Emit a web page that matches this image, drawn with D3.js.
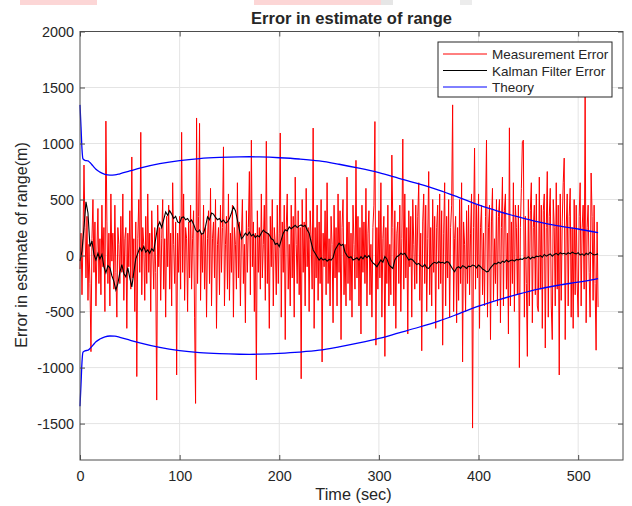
<!DOCTYPE html>
<html>
<head>
<meta charset="utf-8">
<script src="https://cdn.jsdelivr.net/npm/d3@7"></script>
<style>
  body { margin: 0; background: #fff; }
  text { font-family: "Liberation Sans", Arial, sans-serif; fill: #262626; }
</style>
</head>
<body>
<svg id="chart" width="632" height="506"></svg>
<script>
// sample step of the measurement error and kalman series (sec)
const measStep = 1;
const kalmanStep = 2;

const xTicks = [0, 100, 200, 300, 400, 500];
const yTicks = [-1500, -1000, -500, 0, 500, 1000, 1500, 2000];

// measurement error, one value per second from t=0
const measError = [
  -120, 200, -350, 150, 808, 250, -200, 350, -400, 100, -250, -858, 150, 500, -150, 300, -450, 50, 420, -250,
  150, -350, 450, -100, 250, -500, 1200, 300, -250, 200, -450, 550, -50, 200, -300, 450, -150, -550, 250, 100,
  -250, 350, -150, 550, -400, 150, 250, -650, 200, -100, 400, -300, 880, -200, 150, -500, 300, -1080, 150, 500,
  -150, 1100, -350, 250, 100, -400, 350, -250, 550, -150, 200, -500, 400, 50, -300, 250, -150, -1290, 450, -100,
  250, -400, 150, 500, -300, 150, -550, 350, -100, 450, -300, 200, -450, 650, 100, -250, 300, -1066, 200, -150,
  350, -300, 1100, -150, 550, -400, 250, 150, -500, 300, -200, 450, -300, 150, 400, -550, -1320, 1228, -250, 350,
  1180, -400, 200, -150, 450, -300, 250, -550, 150, 400, -250, 600, -450, 150, 300, -200, 500, -650, 100, 250,
  -350, 450, -150, 250, 970, -450, 100, 350, -300, 550, -400, 200, -150, 450, -550, 250, 100, -300, 650, -200,
  300, -450, 150, 500, -250, 100, -600, 400, -150, 250, 750, -350, 1030, -100, 300, -500, 200, -1110, 400, -150,
  250, -300, 550, -200, 100, 450, -400, 1020, -250, 200, -650, 350, -100, 500, -450, 250, 100, -350, 450, -250,
  200, 1094, -550, 300, -150, 450, -750, 250, 550, -300, 100, -450, 450, -200, 350, -550, 700, 100, -250, 400,
  -350, 250, -1100, 500, -150, 300, -450, 600, -100, 250, -500, 400, 150, -300, 1138, -650, 250, -200, 450, -400,
  300, -250, 500, -950, 200, -100, 400, -350, 650, -250, 150, -450, 350, 100, -600, 450, -200, 250, -450, 550,
  -150, 400, -750, 250, 500, -350, 100, -450, 700, -250, 300, -400, 200, -550, 450, 100, -300, 850, -200, 350,
  -450, 250, -700, 450, -150, 300, -250, 600, -450, 200, 400, -350, 100, -550, 250, 450, 1196, -800, 250, -300,
  400, -200, 650, -550, 150, 350, -900, 250, -250, 450, -450, 100, -350, 897, 250, -450, 400, -650, 200, 300,
  -250, 450, -500, 150, 1040, -300, 550, -200, 250, -700, 400, -100, 350, -550, 500, 100, -300, 450, -250, 350,
  650, -400, 200, -850, 300, 550, -250, 450, -500, 150, 750, -350, 250, -450, 500, -150, 350, -650, 250, 450,
  -300, 550, -250, 400, -800, 200, 650, -450, 350, -200, 500, -550, 250, 450, 1345, -500, 150, 350, -600, 250,
  -400, 500, -250, 650, -950, 300, 100, -500, 400, -250, 450, -350, 200, 550, -1540, 250, 960, -300, 450, -200,
  550, -650, 250, 450, -350, 200, -450, 350, 1030, -550, 250, 450, -750, 300, 600, -400, 150, -250, 500, -450,
  350, 500, -600, 250, 700, -450, 400, 550, -300, 200, -700, 1140, -450, 300, -250, 650, -500, 450, 250, -350,
  450, -1000, 250, 600, 1017, 1030, -550, 350, -250, -900, 500, -450, 400, 650, -600, 250, 450, -350, 550, -450,
  -500, 700, -300, 450, -650, 400, 550, -825, 250, 750, -550, 350, 600, -450, -750, 500, 250, -450, 650, -300,
  450, -1066, 550, -400, 300, 650, 870, -750, 250, 550, -450, 350, 600, -550, 250, -650, 500, -350, 450, -250,
  -550, 350, 650, -450, 250, 450, -300, 1420, -600, 250, 450, -150, -550, 737, 350, -400, 450, -250, -845, 300,
  -460
];

// kalman filter error, one value every 2 sec from t=0
const kalmanError = [
  -50, 40, 250, 480, 380, 80, 130, 10, -40, 20,
  -30, 10, -100, -155, -90, -110, -180, -230, -307, -250,
  -150, -80, -160, -190, -110, -200, -280, -150, -30, 20,
  70, 40, 80, 30, 50, 20, 60, 40, 150, 260,
  300, 250, 320, 390, 360, 400, 370, 330, 350, 300,
  290, 340, 345, 320, 330, 300, 317, 280, 230, 210,
  228, 190, 200, 260, 345, 320, 380, 370, 340, 320,
  330, 300, 317, 290, 300, 330, 380, 435, 400, 317,
  230, 150, 170, 200, 180, 210, 175, 190, 160, 180,
  166, 200, 228, 210, 200, 185, 150, 140, 100, 110,
  80, 140, 200, 230, 220, 255, 240, 255, 270, 250,
  265, 273, 260, 270, 230, 200, 120, 50, 20, -10,
  -40, -20, -40, -30, -50, -35, -40, -20, 50, 80,
  110, 90, 100, 30, 0, -20, -10, -40, -30, -20,
  -40, -10, -30, 0, -20, 0, -40, -66, -80, -100,
  -70, -40, -60, -10, -30, -80, -100, -115, -40, -10,
  0, 20, 10, 20, -10, -40, -30, -40, -60, -80,
  -70, -90, -100, -80, -110, -115, -90, -70, -60, -70,
  -55, -65, -60, -70, -55, -60, -90, -120, -145, -110,
  -100, -115, -90, -100, -115, -95, -100, -85, -90, -110,
  -85, -100, -120, -130, -145, -140, -110, -90, -70, -75,
  -60, -70, -50, -60, -40, -55, -45, -40, -50, -35,
  -40, -30, -35, -20, -25, -10, -30, -15, -20, -5,
  -10, 0, -15, 10, -5, 5, 15, -5, 10, 20,
  5, 25, 15, 20, 10, 25, 15, 30, 20, 15,
  25, 5, 15, 0, 20, 10, 30, 15, 5, 10,
  15
];

// theory bound (upper), lower bound is its negative
const theoryTime = [0, 1, 2, 3, 5, 8, 10, 13, 16, 20, 25, 30, 35, 40, 50, 60, 80, 100, 120, 140, 160, 170, 180, 200, 220, 240, 260, 280, 300, 320, 340, 360, 380, 400, 420, 440, 460, 480, 500, 520];
const theoryBound = [1345, 1150, 950, 862, 850, 845, 830, 800, 770, 745, 725, 718, 720, 730, 755, 780, 820, 848, 866, 876, 881, 882, 880, 873, 862, 845, 815, 780, 740, 690, 640, 585, 520, 452, 395, 345, 300, 265, 237, 205];

const legendItems = [
  { label: "Measurement Error", color: "#ff0000" },
  { label: "Kalman Filter Error", color: "#000000" },
  { label: "Theory", color: "#0000ff" }
];

const svg = d3.select('#chart');

// faint bands along the top edge of the screenshot
svg.append('rect').attr('x', 20).attr('y', 0).attr('width', 77).attr('height', 5).attr('fill', '#fcd6d6');
svg.append('rect').attr('x', 254).attr('y', 0).attr('width', 127).attr('height', 5).attr('fill', '#fcd6d6');
svg.append('rect').attr('x', 381).attr('y', 0).attr('width', 12).attr('height', 5).attr('fill', '#e6e6e6');
svg.append('rect').attr('x', 460).attr('y', 0).attr('width', 12).attr('height', 5).attr('fill', '#ececec');

const plotLeft = 80, plotRight = 623, plotTop = 31.5, plotBottom = 460;

const x = d3.scaleLinear().domain([0, 545]).range([plotLeft, plotRight]);
const y = d3.scaleLinear().domain([-1825, 2000]).range([plotBottom, plotTop]);

// grid
svg.append('g')
    .selectAll('line')
    .data(xTicks.slice(1))
    .join('line')
    .attr('x1', d => x(d)).attr('x2', d => x(d))
    .attr('y1', plotTop).attr('y2', plotBottom)
    .attr('stroke', '#e4e4e4');

svg.append('g')
    .selectAll('line')
    .data(yTicks.slice(0, -1))
    .join('line')
    .attr('x1', plotLeft).attr('x2', plotRight)
    .attr('y1', d => y(d)).attr('y2', d => y(d))
    .attr('stroke', '#e4e4e4');

const plot = svg.append('g');

const line = d3.line()
    .x(d => x(d[0]))
    .y(d => y(d[1]));

plot.append('path')
    .datum(measError.map((v, i) => [i * measStep, v]))
    .attr('d', line)
    .attr('fill', 'none')
    .attr('stroke', '#ff0000')
    .attr('stroke-width', 1);

plot.append('path')
    .datum(kalmanError.map((v, i) => [i * kalmanStep, v]))
    .attr('d', line)
    .attr('fill', 'none')
    .attr('stroke', '#000000')
    .attr('stroke-width', 1.1);

const smooth = d3.line()
    .x(d => x(d[0]))
    .y(d => y(d[1]))
    .curve(d3.curveMonotoneX);

plot.append('path')
    .datum(theoryTime.map((t, i) => [t, theoryBound[i]]))
    .attr('d', smooth)
    .attr('fill', 'none')
    .attr('stroke', '#0000ff')
    .attr('stroke-width', 1.3);

plot.append('path')
    .datum(theoryTime.map((t, i) => [t, -theoryBound[i]]))
    .attr('d', smooth)
    .attr('fill', 'none')
    .attr('stroke', '#0000ff')
    .attr('stroke-width', 1.3);

// axes, ticks inside on all four sides
const tickLen = 5;
const axisColor = '#4d4d4d';
const fmt = d => String(d);

svg.append('g')
    .attr('transform', `translate(0,${plotBottom})`)
    .call(d3.axisBottom(x).tickValues(xTicks).tickFormat(fmt).tickSizeInner(-tickLen).tickSizeOuter(0).tickPadding(11))
    .call(g => g.select('.domain').remove());

svg.append('g')
    .attr('transform', `translate(0,${plotTop})`)
    .call(d3.axisTop(x).tickValues(xTicks).tickSizeInner(-tickLen).tickSizeOuter(0).tickFormat(''))
    .call(g => g.select('.domain').remove());

svg.append('g')
    .attr('transform', `translate(${plotLeft},0)`)
    .call(d3.axisLeft(y).tickValues(yTicks).tickFormat(fmt).tickSizeInner(-tickLen).tickSizeOuter(0).tickPadding(6))
    .call(g => g.select('.domain').remove());

svg.append('g')
    .attr('transform', `translate(${plotRight},0)`)
    .call(d3.axisRight(y).tickValues(yTicks).tickSizeInner(-tickLen).tickSizeOuter(0).tickFormat(''))
    .call(g => g.select('.domain').remove());

svg.selectAll('.tick line').attr('stroke', axisColor);
svg.selectAll('.tick text')
    .attr('font-size', 14.4)
    .attr('font-family', '"Liberation Sans", Arial, sans-serif')
    .attr('fill', '#262626');

svg.append('rect')
    .attr('x', plotLeft).attr('y', plotTop)
    .attr('width', plotRight - plotLeft).attr('height', plotBottom - plotTop)
    .attr('fill', 'none')
    .attr('stroke', axisColor)
    .attr('stroke-width', 1);

// title and labels
svg.append('text')
    .attr('x', (plotLeft + plotRight) / 2).attr('y', 24)
    .attr('text-anchor', 'middle')
    .attr('font-size', 16.5)
    .attr('font-weight', 'bold')
    .attr('fill', '#000')
    .text('Error in estimate of range');

svg.append('text')
    .attr('x', 353.5).attr('y', 500)
    .attr('text-anchor', 'middle')
    .attr('font-size', 16.3)
    .text('Time (sec)');

svg.append('text')
    .attr('transform', `translate(27,245) rotate(-90)`)
    .attr('text-anchor', 'middle')
    .attr('font-size', 16.1)
    .text('Error in estimate of range(m)');

// legend
const legend = svg.append('g').attr('transform', 'translate(438,42)');

legend.append('rect')
    .attr('width', 174).attr('height', 55)
    .attr('fill', '#fff')
    .attr('stroke', '#262626');

const rows = legend.selectAll('g.item')
    .data(legendItems)
    .join('g')
    .attr('class', 'item')
    .attr('transform', (d, i) => `translate(0,${12 + i * 16.5})`);

rows.append('line')
    .attr('x1', 5).attr('x2', 49)
    .attr('stroke', d => d.color)
    .attr('stroke-width', 1);

rows.append('text')
    .attr('x', 54).attr('y', 5)
    .attr('font-size', 13.5)
    .text(d => d.label);
</script>
</body>
</html>
